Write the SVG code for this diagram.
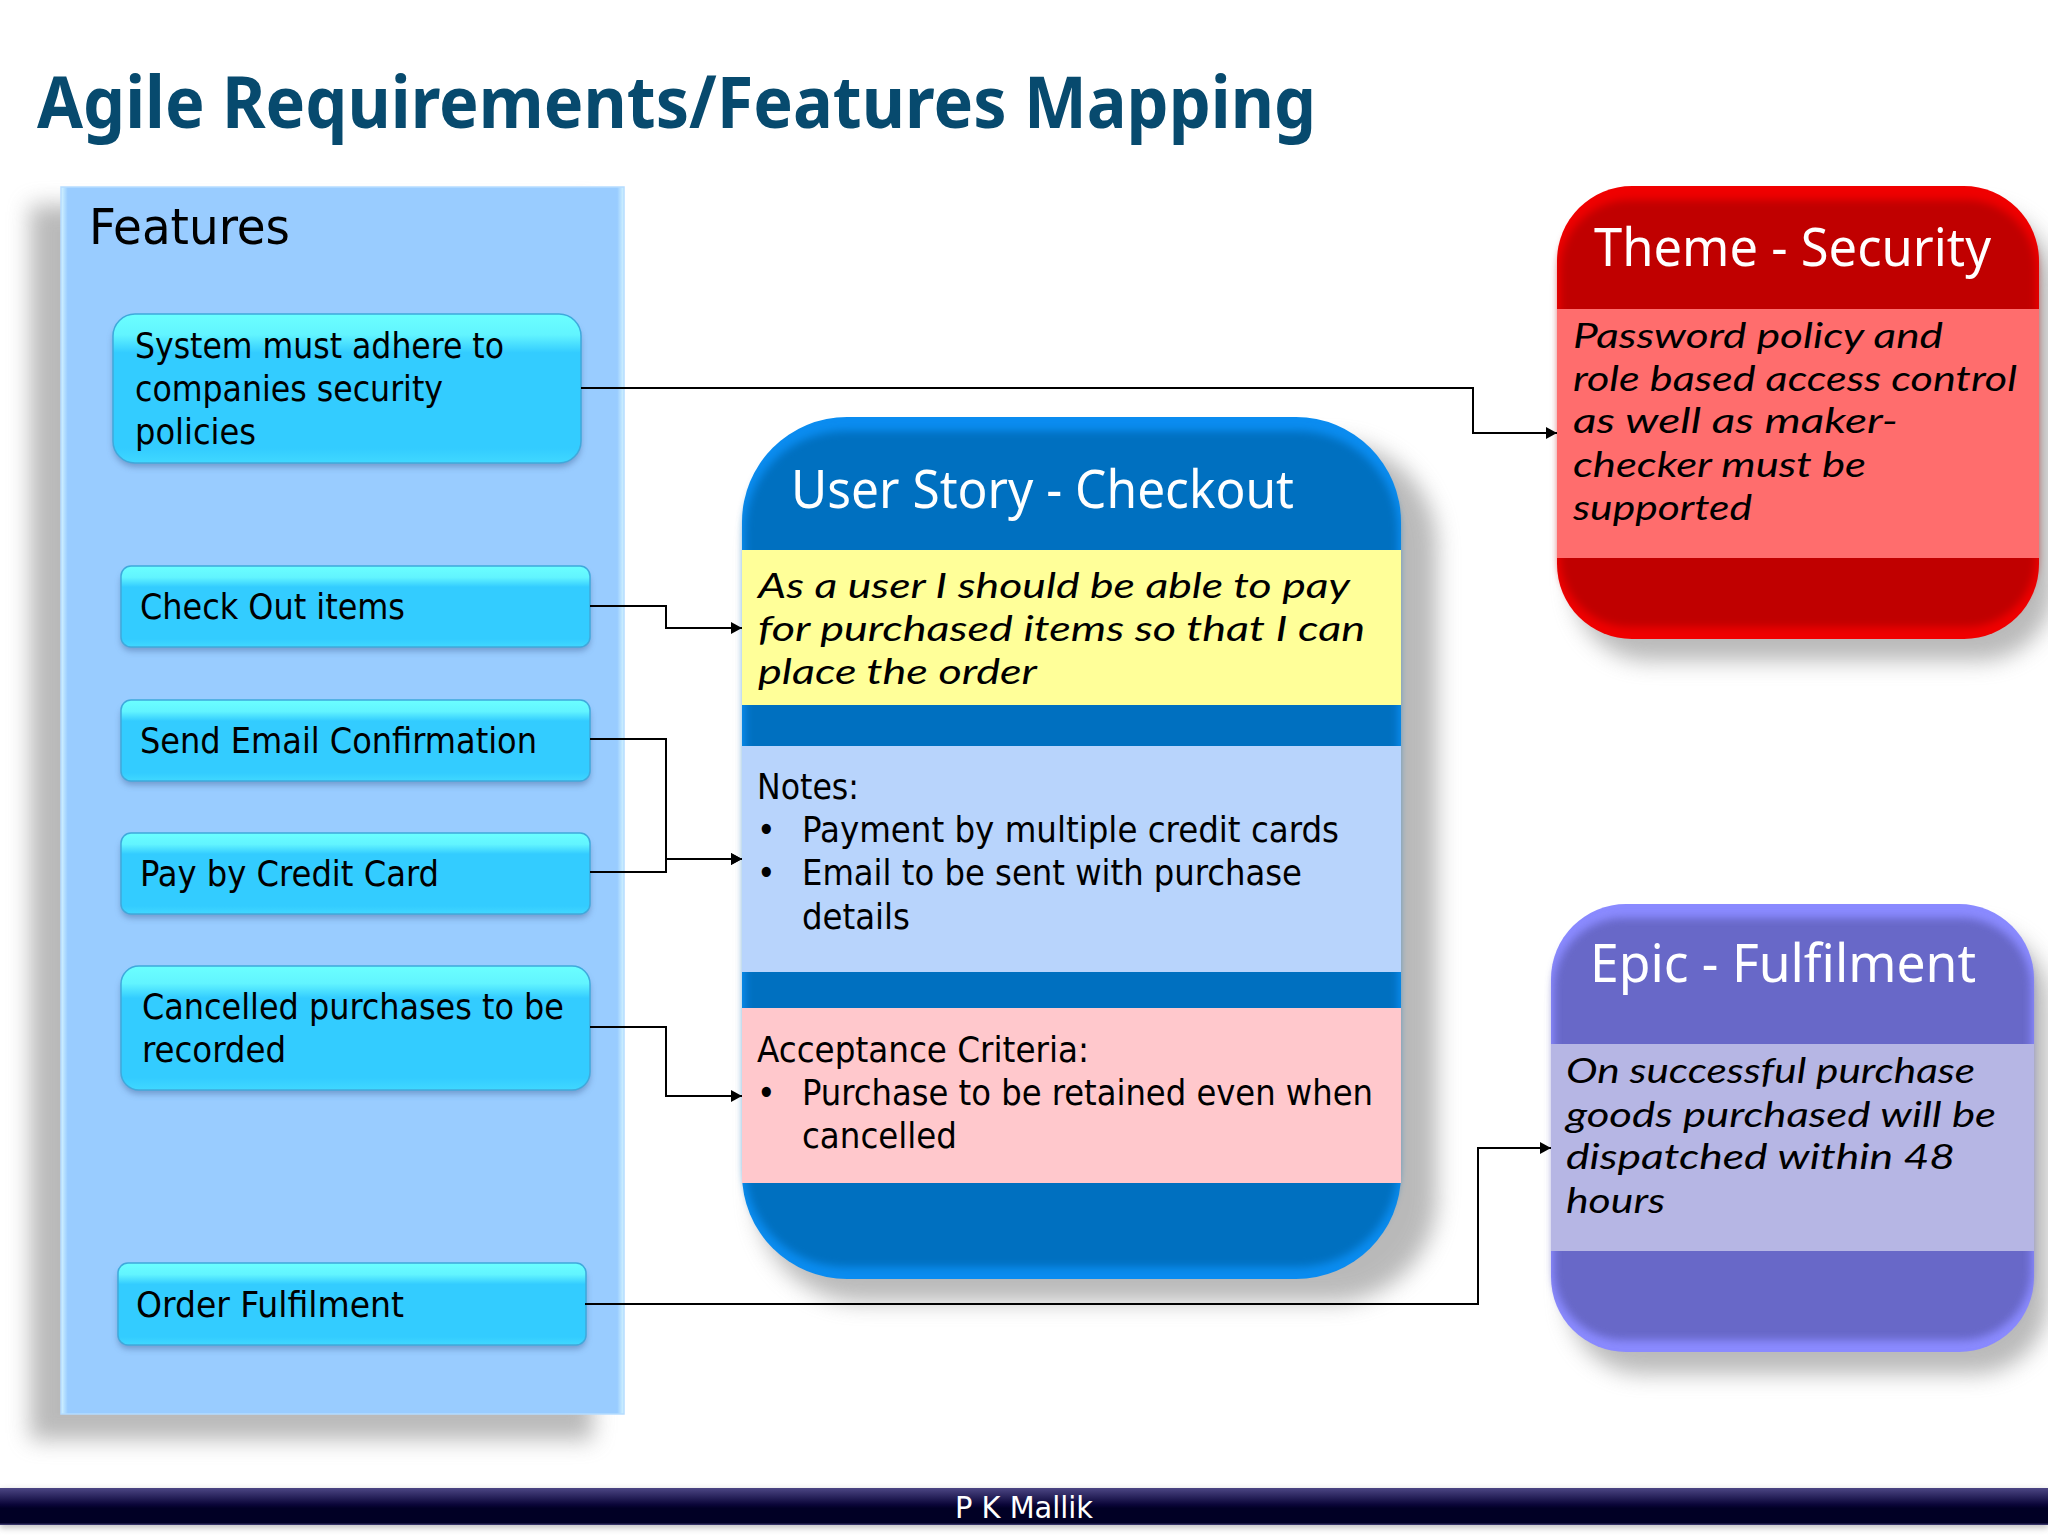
<svg xmlns="http://www.w3.org/2000/svg" width="2048" height="1537" viewBox="0 0 2048 1537">
<style>
.t{font-family:"DejaVu Sans Condensed","DejaVu Sans","Noto Sans",sans-serif;fill:#000;font-size:35px}
.f{font-family:"Lato","Open Sans",sans-serif;font-style:italic;fill:#000;font-size:35px}
.h{font-family:"Noto Sans","Open Sans",sans-serif;fill:#fff;font-size:52px}
.b{fill:url(#btn);stroke:#3fa9dc;stroke-width:1.5}
.c{fill:none;stroke:#000;stroke-width:2}
.a{marker-end:url(#arr)}
</style>
<defs>
<marker id="arr" markerUnits="userSpaceOnUse" markerWidth="12" markerHeight="12" refX="11" refY="6" orient="auto"><path d="M0 0L11 6L0 12Z" fill="#000"/></marker>
<linearGradient id="btn" x1="0" y1="0" x2="0" y2="1"><stop offset="0" stop-color="#6bffff"/><stop offset=".14" stop-color="#62f4ff"/><stop offset=".26" stop-color="#33ccff"/><stop offset=".9" stop-color="#33ccff"/><stop offset="1" stop-color="#40d8ff"/></linearGradient>
<linearGradient id="bar" x1="0" y1="0" x2="0" y2="1"><stop offset="0" stop-color="#4c4684"/><stop offset=".45" stop-color="#0a0538"/><stop offset=".55" stop-color="#010025"/><stop offset=".94" stop-color="#010025"/><stop offset="1" stop-color="#45427a"/></linearGradient>
<linearGradient id="pan" x1="0" y1="0" x2="1" y2="0"><stop offset="0" stop-color="#d4f4ff"/><stop offset=".012" stop-color="#99ccff"/><stop offset=".988" stop-color="#99ccff"/><stop offset="1" stop-color="#d4f4ff"/></linearGradient>
<filter id="s1" x="-20%" y="-20%" width="140%" height="140%"><feGaussianBlur stdDeviation="11"/></filter>
<filter id="s2" x="-20%" y="-20%" width="140%" height="140%"><feGaussianBlur stdDeviation="3"/></filter>
<filter id="s3" x="-10%" y="-10%" width="120%" height="120%"><feGaussianBlur stdDeviation="4"/></filter>
</defs>
<rect width="2048" height="1537" fill="#fff"/>
<text id="title" x="37" y="128" font-family="Noto Sans,Open Sans,sans-serif" font-weight="700" font-size="71" fill="#074a6e" textLength="1279" lengthAdjust="spacingAndGlyphs">Agile Requirements/Features Mapping</text>

<g id="features">
<rect x="30" y="205" width="563" height="1235" fill="#8c8c8c" opacity=".6" filter="url(#s1)"/>
<rect x="61" y="187" width="563" height="1227" fill="url(#pan)" stroke="#b5dcff" stroke-width="1.5"/>
<text class="t" x="89" y="244" style="font-size:50px" textLength="201" lengthAdjust="spacingAndGlyphs">Features</text>
</g>

<g id="f1"><rect x="113" y="320" width="468" height="147" rx="22" fill="#5d84b8" opacity=".7" filter="url(#s2)"/><rect class="b" x="113" y="314" width="468" height="149" rx="22"/>
<text class="t" x="135" y="358" textLength="369" lengthAdjust="spacingAndGlyphs">System must adhere to</text><text class="t" x="135" y="401" textLength="308" lengthAdjust="spacingAndGlyphs">companies security</text><text class="t" x="135" y="444" textLength="121" lengthAdjust="spacingAndGlyphs">policies</text></g>
<g id="f2"><rect x="121" y="572" width="469" height="79" rx="10" fill="#5d84b8" opacity=".7" filter="url(#s2)"/><rect class="b" x="121" y="566" width="469" height="81" rx="10"/><text class="t" x="140" y="619" textLength="265" lengthAdjust="spacingAndGlyphs">Check Out items</text></g>
<g id="f3"><rect x="121" y="706" width="469" height="79" rx="10" fill="#5d84b8" opacity=".7" filter="url(#s2)"/><rect class="b" x="121" y="700" width="469" height="81" rx="10"/><text class="t" x="140" y="753" textLength="397" lengthAdjust="spacingAndGlyphs">Send Email Confirmation</text></g>
<g id="f4"><rect x="121" y="839" width="469" height="79" rx="10" fill="#5d84b8" opacity=".7" filter="url(#s2)"/><rect class="b" x="121" y="833" width="469" height="81" rx="10"/><text class="t" x="140" y="886" textLength="299" lengthAdjust="spacingAndGlyphs">Pay by Credit Card</text></g>
<g id="f5"><rect x="121" y="972" width="469" height="122" rx="18" fill="#5d84b8" opacity=".7" filter="url(#s2)"/><rect class="b" x="121" y="966" width="469" height="124" rx="18"/><text class="t" x="142" y="1019" textLength="422" lengthAdjust="spacingAndGlyphs">Cancelled purchases to be</text><text class="t" x="142" y="1062" textLength="144" lengthAdjust="spacingAndGlyphs">recorded</text></g>
<g id="f6"><rect x="118" y="1269" width="468" height="80" rx="10" fill="#5d84b8" opacity=".7" filter="url(#s2)"/><rect class="b" x="118" y="1263" width="468" height="82" rx="10"/><text class="t" x="136" y="1317" textLength="268" lengthAdjust="spacingAndGlyphs">Order Fulfilment</text></g>

<g id="story">
<rect x="757" y="442" width="680" height="860" rx="105" fill="#8c8c8c" opacity=".6" filter="url(#s1)"/>
<rect x="742" y="417" width="659" height="862" rx="105" fill="#0a8cf0"/>
<rect x="745" y="431" width="653" height="836" rx="100" fill="#0070c0" filter="url(#s3)"/>
<rect x="742" y="550" width="659" height="155" fill="#ffff99"/>
<rect x="742" y="746" width="659" height="226" fill="#b8d4fc"/>
<rect x="742" y="1008" width="659" height="175" fill="#ffc8cc"/>
<text class="h" x="791" y="508" textLength="503" lengthAdjust="spacingAndGlyphs">User Story - Checkout</text>
<text class="f" x="758" y="598" textLength="592" lengthAdjust="spacingAndGlyphs">As a user I should be able to pay</text>
<text class="f" x="758" y="641" textLength="607" lengthAdjust="spacingAndGlyphs">for purchased items so that I can</text>
<text class="f" x="758" y="684" textLength="279" lengthAdjust="spacingAndGlyphs">place the order</text>
<text class="t" x="757" y="799" textLength="102" lengthAdjust="spacingAndGlyphs">Notes:</text>
<text class="t" x="757" y="842">•</text><text class="t" x="802" y="842" textLength="537" lengthAdjust="spacingAndGlyphs">Payment by multiple credit cards</text>
<text class="t" x="757" y="885">•</text><text class="t" x="802" y="885" textLength="500" lengthAdjust="spacingAndGlyphs">Email to be sent with purchase</text>
<text class="t" x="802" y="929" textLength="108" lengthAdjust="spacingAndGlyphs">details</text>
<text class="t" x="757" y="1062" textLength="332" lengthAdjust="spacingAndGlyphs">Acceptance Criteria:</text>
<text class="t" x="757" y="1105">•</text><text class="t" x="802" y="1105" textLength="571" lengthAdjust="spacingAndGlyphs">Purchase to be retained even when</text>
<text class="t" x="802" y="1148" textLength="155" lengthAdjust="spacingAndGlyphs">cancelled</text>
</g>

<g id="theme">
<rect x="1574" y="210" width="480" height="451" rx="75" fill="#8c8c8c" opacity=".6" filter="url(#s1)"/>
<rect x="1557" y="186" width="482" height="453" rx="75" fill="#f00000"/>
<rect x="1560" y="200" width="476" height="427" rx="70" fill="#c00000" filter="url(#s3)"/>
<rect x="1557" y="309" width="482" height="249" fill="#ff6d6d"/>
<text class="h" x="1594" y="266" textLength="397" lengthAdjust="spacingAndGlyphs">Theme - Security</text>
<text class="f" x="1573" y="348" textLength="370" lengthAdjust="spacingAndGlyphs">Password policy and</text>
<text class="f" x="1573" y="391" textLength="444" lengthAdjust="spacingAndGlyphs">role based access control</text>
<text class="f" x="1573" y="433" textLength="325" lengthAdjust="spacingAndGlyphs">as well as maker-</text>
<text class="f" x="1573" y="477" textLength="293" lengthAdjust="spacingAndGlyphs">checker must be</text>
<text class="f" x="1573" y="520" textLength="179" lengthAdjust="spacingAndGlyphs">supported</text>
</g>

<g id="epic">
<rect x="1568" y="928" width="481" height="446" rx="75" fill="#8c8c8c" opacity=".6" filter="url(#s1)"/>
<rect x="1551" y="904" width="483" height="448" rx="75" fill="#8a8aff"/>
<rect x="1554" y="918" width="477" height="422" rx="70" fill="#6868c8" filter="url(#s3)"/>
<rect x="1551" y="1044" width="483" height="207" fill="#b6b6e4"/>
<text class="h" x="1590" y="982" textLength="386" lengthAdjust="spacingAndGlyphs">Epic - Fulfilment</text>
<text class="f" x="1566" y="1083" textLength="409" lengthAdjust="spacingAndGlyphs">On successful purchase</text>
<text class="f" x="1566" y="1127" textLength="430" lengthAdjust="spacingAndGlyphs">goods purchased will be</text>
<text class="f" x="1566" y="1169" textLength="389" lengthAdjust="spacingAndGlyphs">dispatched within 48</text>
<text class="f" x="1566" y="1213" textLength="99" lengthAdjust="spacingAndGlyphs">hours</text>
</g>

<g id="connectors">
<path class="c a" d="M581 388H1473V433H1557"/>
<path class="c a" d="M590 606H666V628H742"/>
<path class="c a" d="M590 739H666V859H742"/>
<path class="c a" d="M590 872H666V859H742"/>
<path class="c a" d="M590 1027H666V1096H742"/>
<path class="c a" d="M585 1304H1478V1148H1551"/>
</g>

<g id="footer">
<rect x="0" y="1490" width="2048" height="38" fill="#888" opacity=".5" filter="url(#s2)"/>
<rect x="0" y="1488" width="2048" height="37" fill="url(#bar)"/>
<text x="955" y="1518" font-family="DejaVu Sans Condensed,DejaVu Sans,sans-serif" font-size="30" fill="#fff" textLength="138" lengthAdjust="spacingAndGlyphs">P K Mallik</text>
</g>
</svg>
